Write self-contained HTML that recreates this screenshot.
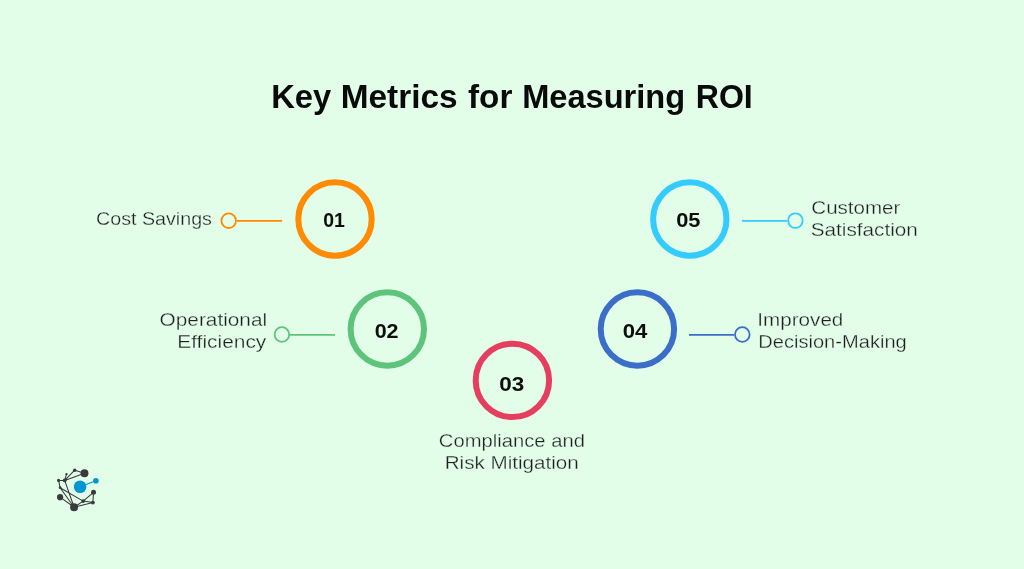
<!DOCTYPE html>
<html>
<head>
<meta charset="utf-8">
<style>
html,body{margin:0;padding:0;width:1024px;height:569px;overflow:hidden;background:#e2fde8;}
svg{display:block;will-change:transform;}
.t{font-family:"Liberation Sans",sans-serif;}
.lbl{font-size:19px;fill:#1f1f1f;stroke:#e2fde8;stroke-width:0.3px;}
.num{font-size:20px;font-weight:bold;fill:#0d0d0d;}
</style>
</head>
<body>
<svg width="1024" height="569" viewBox="0 0 1024 569">
<rect x="0" y="0" width="1024" height="569" fill="#e2fde8"/>
<text class="t" transform="translate(301.20 108.1) scale(0.9779 1)" text-anchor="middle" font-size="33.5" font-weight="bold" fill="#0a0a0a">Key</text><text class="t" transform="translate(399.13 108.1) scale(0.9965 1)" text-anchor="middle" font-size="33.5" font-weight="bold" fill="#0a0a0a">Metrics</text><text class="t" transform="translate(490.19 108.1) scale(0.9927 1)" text-anchor="middle" font-size="33.5" font-weight="bold" fill="#0a0a0a">for</text><text class="t" transform="translate(603.63 108.1) scale(0.9730 1)" text-anchor="middle" font-size="33.5" font-weight="bold" fill="#0a0a0a">Measuring</text><text class="t" transform="translate(724.25 108.1) scale(0.9590 1)" text-anchor="middle" font-size="33.5" font-weight="bold" fill="#0a0a0a">ROI</text>
<circle cx="335" cy="219" r="36.7" fill="none" stroke="#ff8a03" stroke-width="6"/>
<line x1="237" y1="220.8" x2="282" y2="220.8" stroke="#ff8a03" stroke-width="1.8"/><circle cx="228.7" cy="220.7" r="7.3" fill="none" stroke="#ff8a03" stroke-width="1.8"/>
<text class="t num" transform="translate(333.98 226.90) scale(0.9750 1)" text-anchor="middle">01</text>
<text class="t lbl" transform="translate(211.93 224.75) scale(1.0360 1)" text-anchor="end">Cost Savings</text>
<circle cx="387.3" cy="329" r="36.7" fill="none" stroke="#5ec47b" stroke-width="6"/>
<line x1="290" y1="334.8" x2="335" y2="334.8" stroke="#5ec47b" stroke-width="1.8"/><circle cx="281.9" cy="334.5" r="7.3" fill="none" stroke="#5ec47b" stroke-width="1.8"/>
<text class="t num" transform="translate(386.63 338.00) scale(1.0740 1)" text-anchor="middle">02</text>
<text class="t lbl" transform="translate(267.10 326.00) scale(1.0950 1)" text-anchor="end">Operational</text>
<text class="t lbl" transform="translate(266.28 348.00) scale(1.1000 1)" text-anchor="end">Efficiency</text>
<circle cx="512.4" cy="380.4" r="36.7" fill="none" stroke="#e53e5f" stroke-width="6"/>
<text class="t num" transform="translate(511.82 390.70) scale(1.1230 1)" text-anchor="middle">03</text>
<text class="t lbl" transform="translate(511.87 447.10) scale(1.0640 1)" text-anchor="middle">Compliance and</text>
<text class="t lbl" transform="translate(511.74 468.80) scale(1.0860 1)" text-anchor="middle">Risk Mitigation</text>
<circle cx="637.4" cy="329" r="36.7" fill="none" stroke="#3a6ec9" stroke-width="6"/>
<line x1="689" y1="334.8" x2="734" y2="334.8" stroke="#3a6ec9" stroke-width="1.8"/><circle cx="742.3" cy="334.5" r="7.3" fill="none" stroke="#3a6ec9" stroke-width="1.8"/>
<text class="t num" transform="translate(634.98 338.00) scale(1.1060 1)" text-anchor="middle">04</text>
<text class="t lbl" transform="translate(757.35 326.10) scale(1.0860 1)" text-anchor="start">Improved</text>
<text class="t lbl" transform="translate(758.25 348.00) scale(1.0580 1)" text-anchor="start">Decision-Making</text>
<circle cx="689.8" cy="219" r="36.7" fill="none" stroke="#34cbfe" stroke-width="6"/>
<line x1="742" y1="220.9" x2="787" y2="220.9" stroke="#34cbfe" stroke-width="1.8"/><circle cx="795.4" cy="220.6" r="7.3" fill="none" stroke="#34cbfe" stroke-width="1.8"/>
<text class="t num" transform="translate(688.28 226.90) scale(1.0920 1)" text-anchor="middle">05</text>
<text class="t lbl" transform="translate(811.32 213.90) scale(1.0820 1)" text-anchor="start">Customer</text>
<text class="t lbl" transform="translate(810.71 235.70) scale(1.0910 1)" text-anchor="start">Satisfaction</text>
<g stroke="#3a3a3c" stroke-width="1.05" fill="none">
<path d="M74.7 470.2 L84.5 473.25 M64.7 480.45 L84.5 473.25 M64.7 480.45 L74.7 470.2 M64.7 480.45 L66.5 474.1 M58.6 480.45 L64.7 480.45 M58.6 480.45 L60.1 487.7 M60.1 487.7 L74.1 507.25 M64.7 480.45 L74.1 507.25 M60.1 487.7 L83.2 501.1 M60.1 497.15 L74.1 507.25 M74.1 507.25 L83.2 501.1 M74.1 507.25 L92.9 502.6 M83.2 501.1 L92.9 502.6 M83.2 501.1 L93.5 492.3 M93.5 492.3 L92.9 502.6"/>
</g>
<g fill="#3a3a3c">
<circle cx="84.5" cy="473.25" r="3.95"/>
<circle cx="74.7" cy="470.2" r="1.75"/>
<circle cx="66.5" cy="474.1" r="1.2"/>
<circle cx="58.6" cy="480.45" r="1.6"/>
<circle cx="64.7" cy="480.45" r="1.9"/>
<circle cx="60.1" cy="487.7" r="1.4"/>
<circle cx="60.1" cy="497.15" r="3.1"/>
<circle cx="74.1" cy="507.25" r="3.95"/>
<circle cx="83.2" cy="501.1" r="1.9"/>
<circle cx="92.9" cy="502.6" r="1.9"/>
<circle cx="93.5" cy="492.3" r="2.5"/>
</g>
<line x1="80.1" y1="486.8" x2="95.9" y2="480.7" stroke="#0096d2" stroke-width="1.2"/>
<circle cx="80.1" cy="486.8" r="6.3" fill="#0096d2"/>
<circle cx="95.9" cy="480.7" r="2.8" fill="#0096d2"/>
</svg>
</body>
</html>
